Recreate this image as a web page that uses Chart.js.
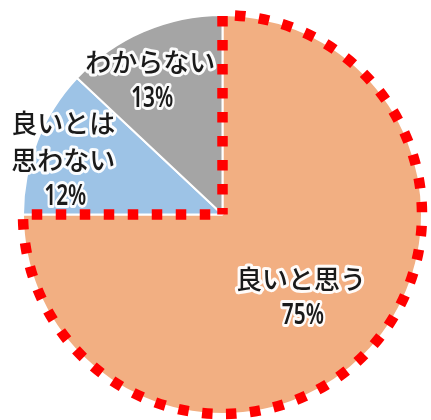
<!DOCTYPE html>
<html>
<head>
<meta charset="utf-8">
<script src="https://cdn.jsdelivr.net/npm/chart.js@4"></script>
<style>
  html, body { margin: 0; padding: 0; background: #fff; }
  #wrap { width: 431px; height: 420px; }
</style>
</head>
<body>
<div id="wrap"><canvas id="pieChart" width="431" height="420"></canvas></div>
<script>
// Chart data
const categories = ['良いと思う', '良いとは思わない', 'わからない'];
const labelLines = [['良いと思う'], ['良いとは', '思わない'], ['わからない']];
const shares = [75, 12, 13];
const percentLabels = ['75%', '12%', '13%'];
const sliceColors = ['#F2AF82', '#9DC3E6', '#A5A5A5'];

// where each label block sits: fraction of radius and angle tweak (deg)
const labelRadius = [0.57, 0.845, 0.77];
const labelAngleShift = [1.4, -2.4, -4.7];

// Red dotted outline round the first slice
const outlinePlugin = {
    id: 'outline',
    afterDatasetsDraw(chart) {
        const arc = chart.getDatasetMeta(0).data[0];
        const p = arc.getProps(['x', 'y', 'startAngle', 'endAngle', 'outerRadius'], true);
        const ctx = chart.ctx;
        ctx.save();
        ctx.beginPath();
        ctx.moveTo(p.x, p.y);
        ctx.lineTo(p.x + p.outerRadius * Math.cos(p.startAngle), p.y + p.outerRadius * Math.sin(p.startAngle));
        ctx.arc(p.x, p.y, p.outerRadius, p.startAngle, p.endAngle);
        ctx.closePath();
        ctx.strokeStyle = '#FF0000';
        ctx.lineWidth = 10.5;
        ctx.lineCap = 'butt';
        ctx.lineJoin = 'miter';
        ctx.setLineDash([10.5, 13.5]);
        ctx.lineDashOffset = 4;
        ctx.stroke();
        ctx.restore();
    }
};

// Labels with a white halo
const labelPlugin = {
    id: 'sliceLabels',
    afterDraw(chart) {
        const ctx = chart.ctx;
        const meta = chart.getDatasetMeta(0);
        meta.data.forEach((arc, i) => {
            const p = arc.getProps(['x', 'y', 'startAngle', 'endAngle', 'outerRadius'], true);
            const mid = (p.startAngle + p.endAngle) / 2 + labelAngleShift[i] * Math.PI / 180;
            const cx = p.x + Math.cos(mid) * p.outerRadius * labelRadius[i];
            const cy = p.y + Math.sin(mid) * p.outerRadius * labelRadius[i];
            const lines = labelLines[i].concat([percentLabels[i]]);
            const lineH = 36.5;
            const top = cy - (lines.length - 1) * lineH / 2;
            lines.forEach((txt, j) => {
                const isNum = j === lines.length - 1;
                const y = top + j * lineH;
                ctx.save();
                ctx.textAlign = 'center';
                ctx.textBaseline = 'middle';
                ctx.lineJoin = 'round';
                if (isNum) {
                    ctx.translate(cx + 2, y);
                    ctx.scale(0.72, 1);
                    ctx.font = '600 29px "Noto Sans", sans-serif';
                } else {
                    ctx.translate(cx, y);
                    ctx.font = '500 26px "Noto Sans CJK JP", sans-serif';
                }
                ctx.strokeStyle = 'rgba(255,255,255,0.95)';
                ctx.lineWidth = 6;
                ctx.strokeText(txt, 0, 1);
                ctx.fillStyle = '#1a1a1a';
                ctx.fillText(txt, 0, 1);
                ctx.restore();
            });
        });
    }
};

new Chart(document.getElementById('pieChart'), {
    type: 'pie',
    data: {
        labels: categories,
        datasets: [{
            data: shares,
            backgroundColor: sliceColors,
            borderColor: '#FFFFFF',
            borderWidth: 2
        }]
    },
    options: {
        responsive: false,
        animation: false,
        layout: {
            padding: { left: 22, right: 8, top: 14, bottom: 5 }
        },
        plugins: {
            legend: { display: false },
            tooltip: { enabled: false }
        }
    },
    plugins: [outlinePlugin, labelPlugin]
});
</script>
</body>
</html>
